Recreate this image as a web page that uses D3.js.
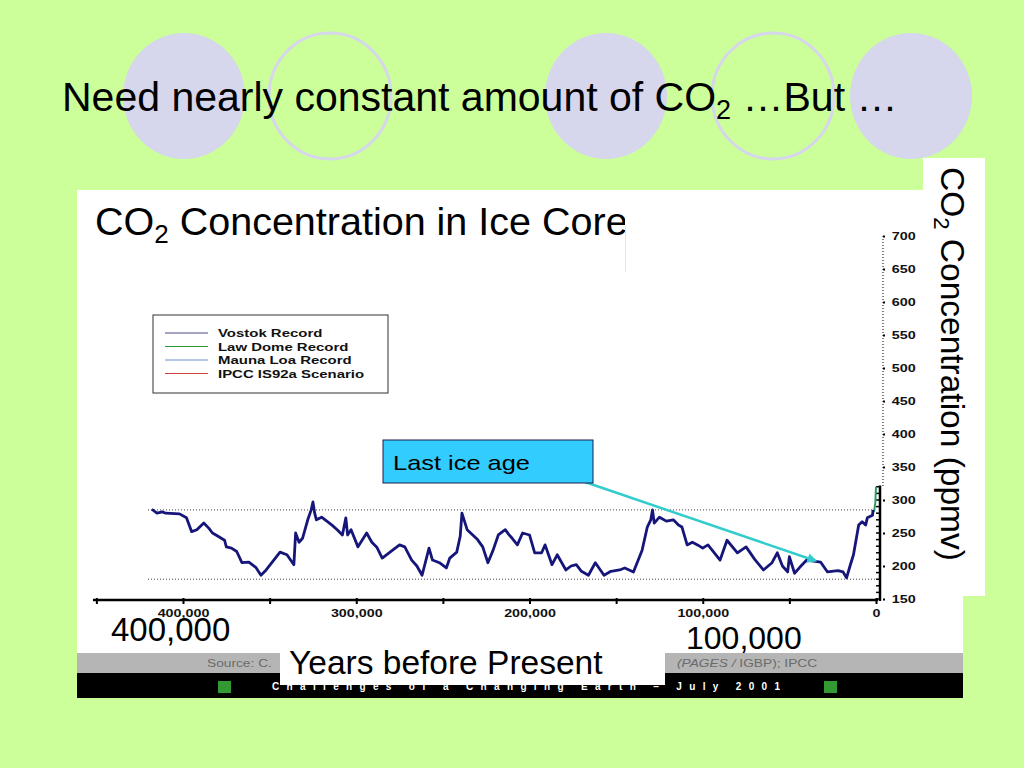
<!DOCTYPE html>
<html>
<head>
<meta charset="utf-8">
<script src="https://cdnjs.cloudflare.com/ajax/libs/d3/7.8.5/d3.min.js"></script>
<style>
  body { margin: 0; background: #ccff99; }
  svg { display: block; font-family: "Liberation Sans", Arial, sans-serif; }
</style>
</head>
<body>
<svg id="slide" width="1024" height="768"></svg>
<script>
// Vostok ice core record (years before present, ppmv)
const vostokYears = [418000, 415000, 412000, 410000, 402000, 398000, 395000, 392000, 388000, 385000,
  383000, 381000, 376000, 375000, 372000, 369000, 366000, 362000, 358000, 355000,
  352000, 344000, 340000, 336000, 335000, 333000, 331000, 328000, 326000, 325000,
  324000, 323000, 320000, 317000, 314000, 311000, 308000, 306000, 305000, 303000,
  299000, 294000, 291000, 288000, 285000, 279000, 275000, 272000, 268000, 265000,
  262000, 258000, 256000, 252000, 248000, 246000, 242000, 240000, 239000, 236000,
  234000, 230000, 227000, 224000, 221000, 218000, 214000, 212000, 210000, 207000,
  204000, 200000, 197000, 193000, 191000, 187000, 184000, 179000, 176000, 173000,
  170000, 166000, 162000, 157000, 153000, 148000, 145000, 140000, 135000, 132000,
  130000, 129000, 128000, 125000, 121000, 117000, 114000, 112000, 109000, 106000,
  103000, 100000, 97000, 90000, 86000, 80000, 75000, 70000, 65000, 60000,
  57000, 54000, 51000, 50000, 47000, 44000, 40000, 32000, 28000, 22000,
  19000, 17000, 15000, 13000, 10000, 8000, 6000, 5000, 2000, 1700];
const vostokPpm = [286, 280, 282, 280, 279, 273, 252, 255, 265, 257,
  250, 247, 239, 229, 227, 222, 205, 206, 198, 186,
  194, 221, 217, 202, 250, 236, 242, 270, 285, 297,
  280, 270, 274, 268, 262, 255, 247, 273, 247, 255,
  229, 250, 236, 228, 212, 224, 232, 229, 209, 200,
  186, 227, 209, 205, 197, 212, 221, 245, 280, 255,
  250, 240, 229, 205, 224, 247, 255, 248, 242, 232,
  250, 247, 220, 220, 232, 202, 217, 194, 200, 202,
  192, 186, 205, 186, 192, 194, 197, 191, 224, 259,
  270, 285, 265, 274, 268, 270, 262, 259, 232, 236,
  232, 227, 232, 209, 239, 220, 229, 210, 194, 205,
  220, 200, 191, 214, 189, 198, 209, 206, 191, 193,
  191, 182, 200, 217, 262, 267, 262, 273, 277, 285];

// Law Dome record (recent centuries)
const lawDomeYears = [1700, 1000, 400, 0];
const lawDomePpm   = [281, 284, 296, 320];

const legendLabels = ["Vostok Record", "Law Dome Record", "Mauna Loa Record", "IPCC IS92a Scenario"];
const legendColors = ["#4a4a8c", "#2e9a3a", "#6f8fc8", "#d04040"];

const xTickValues = [450000, 400000, 350000, 300000, 250000, 200000, 150000, 100000, 50000, 0];
const yTickValues = [150, 200, 250, 300, 350, 400, 450, 500, 550, 600, 650, 700];
const yMinorTicks = d3.range(150, 321, 10);
const guideLevels = [285, 180];

// ─── slide scaffolding ──────────────────────────────────────────────
const svg = d3.select("#slide");
svg.append("rect").attr("width", 1024).attr("height", 768).attr("fill", "#ccff99");

// decorative circles behind the title
const deco = [
  { cx: 184, filled: true }, { cx: 330, filled: false }, { cx: 606, filled: true },
  { cx: 773, filled: false }, { cx: 911, filled: true }
];
svg.append("g").selectAll("ellipse").data(deco).join("ellipse")
  .attr("cx", d => d.cx).attr("cy", 96).attr("rx", 61).attr("ry", 63)
  .attr("fill", d => d.filled ? "#d6d6ec" : "none")
  .attr("stroke", d => d.filled ? "none" : "#d6d6ec")
  .attr("stroke-width", 3);

// title
const title = svg.append("text").attr("x", 62).attr("y", 111)
  .attr("font-size", 41).attr("fill", "#000");
title.append("tspan").text("Need nearly constant amount of CO");
title.append("tspan").attr("font-size", 27).attr("dy", 8).text("2");
title.append("tspan").attr("dy", -8).text(" \u2026But \u2026");

// white chart panel
svg.append("rect").attr("x", 77).attr("y", 190).attr("width", 886).attr("height", 507).attr("fill", "#fff");

// ─── chart ───────────────────────────────────────────────────────────
const x = d3.scaleLinear().domain([400000, 0]).range([183, 876]);
const y = d3.scaleLinear().domain([150, 700]).range([599, 236]);
const g = svg.append("g");

// guide lines at interglacial / glacial levels
g.selectAll("line.guide").data(guideLevels).join("line")
  .attr("class", "guide")
  .attr("x1", 148).attr("x2", x(0))
  .attr("y1", d => y(d)).attr("y2", d => y(d))
  .attr("stroke", "#444").attr("stroke-width", 1).attr("stroke-dasharray", "1,2");

// x axis
const fmt = d3.format(",");
const xAxis = g.append("g").attr("transform", "translate(0,600)")
  .call(d3.axisBottom(x).tickValues(xTickValues).tickSizeInner(4).tickSizeOuter(0)
    .tickFormat(d => d % 100000 === 0 ? fmt(d) : ""));
xAxis.select(".domain").attr("stroke", "#000").attr("stroke-width", 2.5)
  .attr("d", `M93,0H${x(0) + 2}`);
xAxis.selectAll(".tick line").attr("stroke", "#000").attr("stroke-width", 2).attr("y1", -2);
xAxis.selectAll(".tick text").attr("y", 9).attr("dy", "0.71em")
  .attr("font-size", 11).attr("font-weight", "bold").attr("fill", "#111")
  .attr("font-family", "Liberation Sans, Arial, sans-serif")
  .attr("transform", "scale(1.3,1)");

// y axis: dotted upper part, solid lower part with minor ticks
const ax = 880;
g.append("line").attr("x1", ax + 3).attr("x2", ax + 3).attr("y1", y(700)).attr("y2", y(318))
  .attr("stroke", "#000").attr("stroke-width", 1).attr("stroke-dasharray", "1,2");
g.append("line").attr("x1", ax).attr("x2", ax).attr("y1", y(150) + 2).attr("y2", y(322))
  .attr("stroke", "#000").attr("stroke-width", 2.5);
g.selectAll("line.minor").data(yMinorTicks).join("line").attr("class", "minor")
  .attr("x1", ax - 4).attr("x2", ax).attr("y1", d => y(d)).attr("y2", d => y(d))
  .attr("stroke", "#000").attr("stroke-width", 1.5);
const yAxis = g.append("g").attr("transform", `translate(${ax + 3},0)`)
  .call(d3.axisRight(y).tickValues(yTickValues).tickSize(2).tickPadding(5));
yAxis.select(".domain").remove();
yAxis.selectAll(".tick line").attr("stroke", "#000").attr("stroke-width", 2);
yAxis.selectAll(".tick text").attr("font-size", 11.5).attr("font-weight", "bold").attr("fill", "#111")
  .attr("font-family", "Liberation Sans, Arial, sans-serif")
  .attr("transform", "scale(1.25,1)");

// records
const line = d3.line().x(d => x(d[0])).y(d => y(d[1]));
g.append("path").datum(d3.zip(lawDomeYears, lawDomePpm))
  .attr("d", line).attr("fill", "none").attr("stroke", "#2e9a6a").attr("stroke-width", 2);
g.append("path").datum(d3.zip(vostokYears, vostokPpm))
  .attr("d", line).attr("fill", "none").attr("stroke", "#16167a")
  .attr("stroke-width", 2.8).attr("stroke-linejoin", "round");

// legend
const lg = g.append("g").attr("transform", "translate(153,315)");
lg.append("rect").attr("width", 235).attr("height", 78).attr("fill", "#fff")
  .attr("stroke", "#333").attr("stroke-width", 1);
const rows = lg.selectAll("g.row").data(legendLabels).join("g").attr("class", "row")
  .attr("transform", (d, i) => `translate(0,${19 + i * 13.5})`);
rows.append("line").attr("x1", 12).attr("x2", 55).attr("y1", -1).attr("y2", -1)
  .attr("stroke", (d, i) => legendColors[i]).attr("stroke-width", 1);
rows.append("text").attr("x", 65 / 1.3).attr("y", 3).attr("transform", "scale(1.3,1)")
  .attr("font-size", 11.5).attr("font-weight", "bold").attr("fill", "#111").text(d => d);

// ─── slide annotations on top of the chart ──────────────────────────
// subtitle, clipped on its right edge
svg.append("clipPath").attr("id", "subClip").append("rect")
  .attr("x", 77).attr("y", 190).attr("width", 548).attr("height", 70);
const sub = svg.append("text").attr("x", 95).attr("y", 235).attr("font-size", 39.5)
  .attr("clip-path", "url(#subClip)");
sub.append("tspan").text("CO");
sub.append("tspan").attr("font-size", 26).attr("dy", 8).text("2");
sub.append("tspan").attr("dy", -8).text(" Concentration in Ice Core");
svg.append("line").attr("x1", 625.5).attr("x2", 625.5).attr("y1", 226).attr("y2", 272)
  .attr("stroke", "#f0dcec").attr("stroke-width", 1);

// last ice age callout
const calloutTarget = [35000, 208];
svg.append("defs").append("marker").attr("id", "arrow")
  .attr("viewBox", "0 0 10 10").attr("refX", 8).attr("refY", 5)
  .attr("markerWidth", 4).attr("markerHeight", 4).attr("orient", "auto")
  .append("path").attr("d", "M0,0L10,5L0,10Z").attr("fill", "#33cccc");
svg.append("line").attr("x1", 585).attr("y1", 482)
  .attr("x2", x(calloutTarget[0])).attr("y2", y(calloutTarget[1]))
  .attr("stroke", "#33cccc").attr("stroke-width", 2.5).attr("marker-end", "url(#arrow)");
svg.append("rect").attr("x", 383).attr("y", 440).attr("width", 210).attr("height", 43)
  .attr("fill", "#33ccff").attr("stroke", "#1a1a4a").attr("stroke-width", 1);
svg.append("text").attr("x", 393).attr("y", 470).attr("font-size", 21)
  .attr("textLength", 137).attr("lengthAdjust", "spacingAndGlyphs").text("Last ice age");

// bottom bands
svg.append("rect").attr("x", 77).attr("y", 653).attr("width", 886).attr("height", 20).attr("fill", "#b5b5b5");
svg.append("rect").attr("x", 77).attr("y", 673).attr("width", 886).attr("height", 25).attr("fill", "#000");
svg.append("text").attr("x", 207 / 1.25).attr("y", 667).attr("transform", "scale(1.25,1)")
  .attr("font-size", 11).attr("fill", "#6a6a6a").text("Source: C.");
const src = svg.append("text").attr("x", 677 / 1.25).attr("y", 667).attr("transform", "scale(1.25,1)")
  .attr("font-size", 11).attr("fill", "#6a6a6a");
src.append("tspan").attr("font-style", "italic").text("(PAGES / ");
src.append("tspan").text("IGBP);  IPCC");
svg.selectAll("rect.sq").data([218, 824]).join("rect").attr("class", "sq")
  .attr("x", d => d).attr("y", 681).attr("width", 13).attr("height", 12).attr("fill", "#339933");
svg.append("text").attr("x", 272).attr("y", 690).attr("font-size", 10).attr("font-weight", "bold")
  .attr("fill", "#fff").attr("textLength", 508).attr("lengthAdjust", "spacing")
  .text("Challenges of a Changing Earth \u2013 July 2001");

// big axis call-outs
svg.append("text").attr("x", 111).attr("y", 641).attr("font-size", 33).text("400,000");
svg.append("text").attr("x", 686).attr("y", 649).attr("font-size", 32).text("100,000");
svg.append("rect").attr("x", 280).attr("y", 640).attr("width", 385).attr("height", 45).attr("fill", "#fff");
svg.append("text").attr("x", 289).attr("y", 674).attr("font-size", 33.5).text("Years before Present");

// rotated y label
svg.append("rect").attr("x", 923).attr("y", 158).attr("width", 62).attr("height", 438).attr("fill", "#fff");
const yl = svg.append("text").attr("transform", "translate(941,167) rotate(90)").attr("font-size", 33.5);
yl.append("tspan").text("CO");
yl.append("tspan").attr("font-size", 22).attr("dy", 7).text("2");
yl.append("tspan").attr("dy", -7).text(" Concentration (ppmv)");
</script>
</body>
</html>
